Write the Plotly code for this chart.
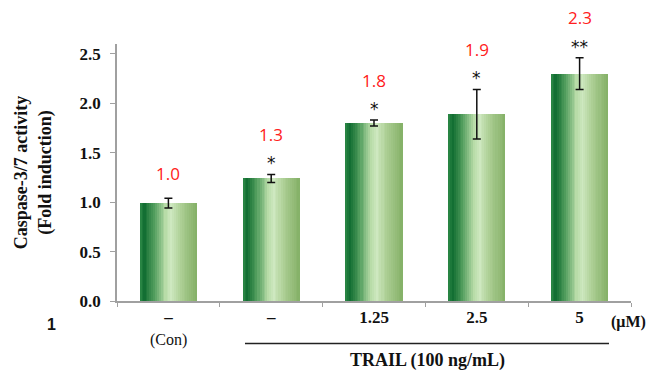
import plotly.graph_objects as go

# ---- data ----
categories = ["Con", "TRAIL", "TRAIL+1.25", "TRAIL+2.5", "TRAIL+5"]
tick_labels = ["<b>–</b>", "<b>–</b>", "<b>1.25</b>", "<b>2.5</b>", "<b>5</b>"]
control_label = "(Con)"
values = [0.99, 1.24, 1.80, 1.89, 2.30]
errors = [0.05, 0.04, 0.03, 0.25, 0.16]
value_labels = ["1.0", "1.3", "1.8", "1.9", "2.3"]
stars = ["", "*", "*", "*", "**"]
y_ticks = [0.0, 0.5, 1.0, 1.5, 2.0, 2.5]

# ---- gradient strips for bars ----
stops = [(0.0, (46, 138, 72)), (0.08, (18, 110, 50)), (0.25, (80, 156, 92)),
         (0.45, (184, 220, 168)), (0.55, (206, 232, 192)), (0.72, (172, 206, 148)),
         (1.0, (132, 176, 102))]

def col(t):
    for (t0, c0), (t1, c1) in zip(stops[:-1], stops[1:]):
        if t0 <= t <= t1:
            f = (t - t0) / (t1 - t0) if t1 > t0 else 0
            c = [round(a + (b - a) * f) for a, b in zip(c0, c1)]
            return "rgb(%d,%d,%d)" % tuple(c)
    return "rgb(%d,%d,%d)" % stops[-1][1]

bar_w = 0.555
N = 30
fig = go.Figure()
for k in range(N):
    fig.add_trace(go.Bar(
        x=categories, y=values, width=bar_w / N * 1.05,
        offset=-bar_w / 2 + k * bar_w / N,
        marker=dict(color=col((k + 0.5) / N), line=dict(width=0)),
        showlegend=False, hoverinfo="skip"))

fig.add_trace(go.Scatter(
    x=categories, y=values, mode="markers", marker=dict(opacity=0, size=1),
    error_y=dict(type="data", array=errors, color="#111111", thickness=1.5, width=4),
    showlegend=False, hoverinfo="skip"))

annotations = []
for c, v, e, lab, s in zip(categories, values, errors, value_labels, stars):
    top = v + e
    if s:
        annotations.append(dict(x=c, y=top, xref="x", yref="y", text=s, showarrow=False,
                                yanchor="middle", yshift=11,
                                font=dict(family="DejaVu Sans", size=17, color="#111111")))
    annotations.append(dict(x=c, y=top, xref="x", yref="y", text=lab, showarrow=False,
                            yanchor="middle", yshift=40 if s else 25,
                            font=dict(family="Open Sans", size=17, color="#ff2020")))

serif = "Liberation Serif"
annotations += [
    dict(x=-0.164, y=0.5, xref="paper", yref="paper", textangle=-90, showarrow=False,
         text="<b>Caspase-3/7 activity<br>(Fold induction)</b>",
         font=dict(family=serif, size=18, color="#111111"), xanchor="center", yanchor="middle"),
    dict(x=categories[0], y=-0.153, xref="x", yref="paper", showarrow=False,
         text=control_label, font=dict(family=serif, size=16, color="#111111"),
         xanchor="center", yanchor="middle"),
    dict(x=2.516, y=-0.232, xref="x", yref="paper", showarrow=False,
         text="<b>TRAIL (100 ng/mL)</b>", font=dict(family=serif, size=18, color="#111111"),
         xanchor="center", yanchor="middle"),
    dict(x=4.48, y=-0.083, xref="x", yref="paper", showarrow=False,
         text="<b>(μM)</b>", font=dict(family=serif, size=16, color="#111111"),
         xanchor="center", yanchor="middle"),
    dict(x=-0.128, y=-0.091, xref="paper", yref="paper", showarrow=False,
         text="<b>1</b>", font=dict(family="Liberation Sans", size=16, color="#111111"),
         xanchor="center", yanchor="middle"),
]

fig.add_shape(type="line", xref="x", yref="paper", x0=0.745, x1=4.286, y0=-0.165, y1=-0.165,
              line=dict(color="#222222", width=1.5))

fig.update_layout(
    width=649, height=370, margin=dict(l=117, r=18, t=44, b=69),
    paper_bgcolor="white", plot_bgcolor="white", bargap=0, barmode="overlay",
    annotations=annotations,
)
fig.update_xaxes(
    type="category", categoryorder="array", categoryarray=categories,
    tickvals=categories, ticktext=tick_labels, range=[-0.5, 4.5], automargin=False,
    showline=True, linecolor="#a0a0a0", linewidth=1.5, showgrid=False,
    ticks="outside", tickson="boundaries", ticklen=4, tickcolor="#a0a0a0",
    ticklabelstandoff=0,
    tickfont=dict(family=serif, size=17, color="#111111"), zeroline=False,
)
fig.update_yaxes(
    range=[0, 2.6], tickvals=y_ticks, ticktext=["<b>%.1f</b>" % t for t in y_ticks],
    automargin=False,
    showline=True, linecolor="#a0a0a0", linewidth=1.5, showgrid=False,
    ticks="outside", ticklen=5, tickcolor="#a0a0a0", ticklabelstandoff=6,
    tickfont=dict(family=serif, size=17, color="#111111"), zeroline=False,
)
fig.update_traces(cliponaxis=False, selector=dict(type="scatter"))
fig.write_html("out.html", config={"displayModeBar": False},
               post_script="document.body.style.margin='0px';document.body.style.overflow='hidden';")
